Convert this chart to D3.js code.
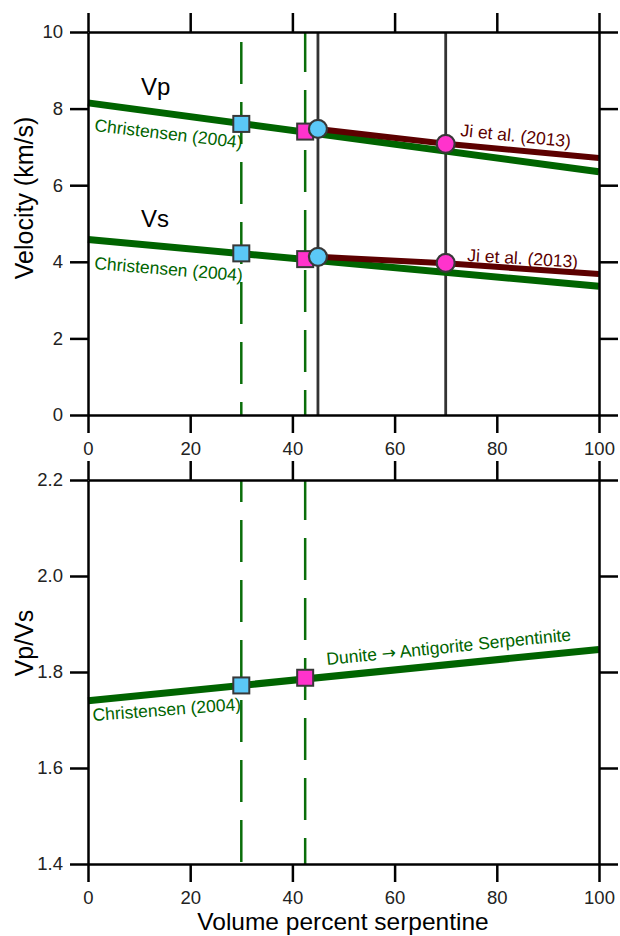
<!DOCTYPE html>
<html>
<head>
<meta charset="utf-8">
<script src="https://cdn.jsdelivr.net/npm/d3@7"></script>
<style>
  html, body { margin: 0; padding: 0; background: #fff; }
  svg { display: block; font-family: "Liberation Sans", Arial, Helvetica, sans-serif; }
</style>
</head>
<body>
<svg id="chart" width="620" height="936"></svg>
<script>
// ---------------- data ----------------
const xTicks = [0, 20, 40, 60, 80, 100];
const velocityTicks = [0, 2, 4, 6, 8, 10];
const ratioTicks = [1.4, 1.6, 1.8, 2.0, 2.2];

const christensenX = [0, 100];
const christensenVp = [8.15, 6.35];
const christensenVs = [4.58, 3.36];
const christensenVpVs = [1.74, 1.847];

const jiX = [45, 70, 100];
const jiVp = [7.47, 7.08, 6.71];
const jiVs = [4.13, 3.96, 3.68];

const dashedX = [30, 42.5];
const solidX = [45, 70];

const squareX = [30, 42.5];
const squareVp = [7.6, 7.4];
const squareVs = [4.22, 4.07];
const squareVpVs = [1.772, 1.788];

const circleX = [45, 70];
const circleVp = [7.47, 7.08];
const circleVs = [4.13, 3.97];

// ---------------- styles ----------------
const GREEN = "#006400";
const MAROON = "#5c0000";
const BLUE = "#5bc8f7";
const MAGENTA = "#ff33cc";
const markerFill = [BLUE, MAGENTA];
const circleFill = [BLUE, MAGENTA];

const svg = d3.select("#chart");
const x = d3.scaleLinear().domain([0, 100]).range([88, 599]);
const yTop = d3.scaleLinear().domain([0, 10]).range([415, 32]);
const yBot = d3.scaleLinear().domain([1.4, 2.2]).range([864, 480]);

function styleAxis(g, labels) {
  g.selectAll("path.domain").attr("stroke", "#000").attr("stroke-width", 2.5);
  g.selectAll(".tick line").attr("stroke", "#000").attr("stroke-width", 2.5);
  g.selectAll(".tick text").attr("fill", "#222").style("font-size", "18.5px");
  if (!labels) g.selectAll(".tick text").remove();
}

function drawAxes(y, ticks, fmt) {
  const x0 = x.range()[0], x1 = x.range()[1];
  const y0 = y.range()[0], y1 = y.range()[1];
  svg.append("g").attr("transform", `translate(0,${y0})`)
    .call(d3.axisBottom(x).tickValues(xTicks).tickSize(18).tickSizeOuter(0).tickPadding(9).tickFormat(d3.format("d")))
    .call(g => styleAxis(g, true));
  svg.append("g").attr("transform", `translate(0,${y1})`)
    .call(d3.axisTop(x).tickValues(xTicks).tickSize(19).tickSizeOuter(0))
    .call(g => styleAxis(g, false));
  svg.append("g").attr("transform", `translate(${x0},0)`)
    .call(d3.axisLeft(y).tickValues(ticks).tickSize(18).tickSizeOuter(0).tickPadding(7).tickFormat(fmt))
    .call(g => styleAxis(g, true));
  svg.append("g").attr("transform", `translate(${x1},0)`)
    .call(d3.axisRight(y).tickValues(ticks).tickSize(19).tickSizeOuter(0))
    .call(g => styleAxis(g, false));
}

function drawVerticals(y, dashOffsets, withSolid) {
  const y0 = y.range()[0], y1 = y.range()[1];
  svg.append("g").selectAll("line").data(dashedX).join("line")
    .attr("x1", d => x(d)).attr("x2", d => x(d))
    .attr("y1", y1).attr("y2", y0)
    .attr("stroke", "#0a6e0a").attr("stroke-width", 2.5)
    .attr("stroke-dasharray", "42,18")
    .attr("stroke-dashoffset", (d, i) => dashOffsets[i]);
  if (withSolid) {
    svg.append("g").selectAll("line").data(solidX).join("line")
      .attr("x1", d => x(d)).attr("x2", d => x(d))
      .attr("y1", y1).attr("y2", y0)
      .attr("stroke", "#333").attr("stroke-width", 2.8);
  }
}

function drawLine(xs, ys, y, color, width) {
  const line = d3.line().x(d => x(d[0])).y(d => y(d[1]));
  svg.append("path").datum(xs.map((v, i) => [v, ys[i]]))
    .attr("d", line).attr("fill", "none")
    .attr("stroke", color).attr("stroke-width", width);
}

function drawSquares(xs, ys, y) {
  svg.append("g").selectAll("rect").data(xs.map((v, i) => [v, ys[i]])).join("rect")
    .attr("x", d => x(d[0]) - 8).attr("y", d => y(d[1]) - 8)
    .attr("width", 16).attr("height", 16)
    .attr("fill", (d, i) => markerFill[i])
    .attr("stroke", "#383838").attr("stroke-width", 2);
}

function drawCircles(xs, ys, y) {
  svg.append("g").selectAll("circle").data(xs.map((v, i) => [v, ys[i]])).join("circle")
    .attr("cx", d => x(d[0])).attr("cy", d => y(d[1])).attr("r", 9)
    .attr("fill", (d, i) => circleFill[i])
    .attr("stroke", "#383838").attr("stroke-width", 2.2);
}

function angleOf(xs, ys, y) {
  const n = xs.length - 1;
  const dx = x(xs[n]) - x(xs[0]);
  const dy = y(ys[n]) - y(ys[0]);
  return Math.atan2(dy, dx) * 180 / Math.PI;
}

function lineLabel(text, px, py, angle, color, size) {
  return svg.append("text")
    .attr("transform", `translate(${px},${py}) rotate(${angle})`)
    .attr("fill", color).style("font-size", size + "px")
    .text(text);
}

// ---------------- top panel ----------------
drawVerticals(yTop, [-10, 2], true);
drawLine(christensenX, christensenVp, yTop, GREEN, 7);
drawLine(christensenX, christensenVs, yTop, GREEN, 7);
drawLine(jiX, jiVp, yTop, MAROON, 6);
drawLine(jiX, jiVs, yTop, MAROON, 6);
drawAxes(yTop, velocityTicks, d3.format("d"));
drawSquares(squareX, squareVp, yTop);
drawSquares(squareX, squareVs, yTop);
drawCircles(circleX, circleVp, yTop);
drawCircles(circleX, circleVs, yTop);

const aVp = angleOf(christensenX, christensenVp, yTop);
const aVs = angleOf(christensenX, christensenVs, yTop);
const aJiVp = angleOf(jiX, jiVp, yTop);
const aJiVs = angleOf(jiX, jiVs, yTop);

svg.append("text").attr("x", 141).attr("y", 95).style("font-size", "24px").attr("fill", "#000").text("Vp");
svg.append("text").attr("x", 141).attr("y", 227).style("font-size", "24px").attr("fill", "#000").text("Vs");
lineLabel("Christensen (2004)", 94, 131, aVp - 1, GREEN, 17.5);
lineLabel("Christensen (2004)", 94, 269, aVs - 0.5, GREEN, 17.5);
lineLabel("Ji et al. (2013)", 460, 136, aJiVp, MAROON, 17.5);
lineLabel("Ji et al. (2013)", 467, 261, aJiVs, MAROON, 17.5);

svg.append("text")
  .attr("transform", "translate(33,198) rotate(-90)")
  .attr("text-anchor", "middle").style("font-size", "25px").attr("fill", "#000")
  .text("Velocity (km/s)");

// ---------------- bottom panel ----------------
drawVerticals(yBot, [20, 2], false);
drawLine(christensenX, christensenVpVs, yBot, GREEN, 7);
drawAxes(yBot, ratioTicks, d3.format(".1f"));
drawSquares(squareX, squareVpVs, yBot);

const aRatio = angleOf(christensenX, christensenVpVs, yBot);
lineLabel("Christensen (2004)", 93, 721, aRatio + 1.5, GREEN, 17.5);
const dunite = lineLabel("", 327, 665, aRatio, GREEN, 17.5);
dunite.append("tspan").text("Dunite ");
dunite.append("tspan").style("font-family", "'DejaVu Sans', sans-serif").style("font-size", "17px").text("\u2192");
dunite.append("tspan").text(" Antigorite Serpentinite");

svg.append("text")
  .attr("transform", "translate(33,643) rotate(-90)")
  .attr("text-anchor", "middle").style("font-size", "25px").attr("fill", "#000")
  .text("Vp/Vs");

svg.append("text")
  .attr("x", 343).attr("y", 930)
  .attr("text-anchor", "middle").style("font-size", "24.5px").attr("fill", "#000")
  .text("Volume percent serpentine");
</script>
</body>
</html>
